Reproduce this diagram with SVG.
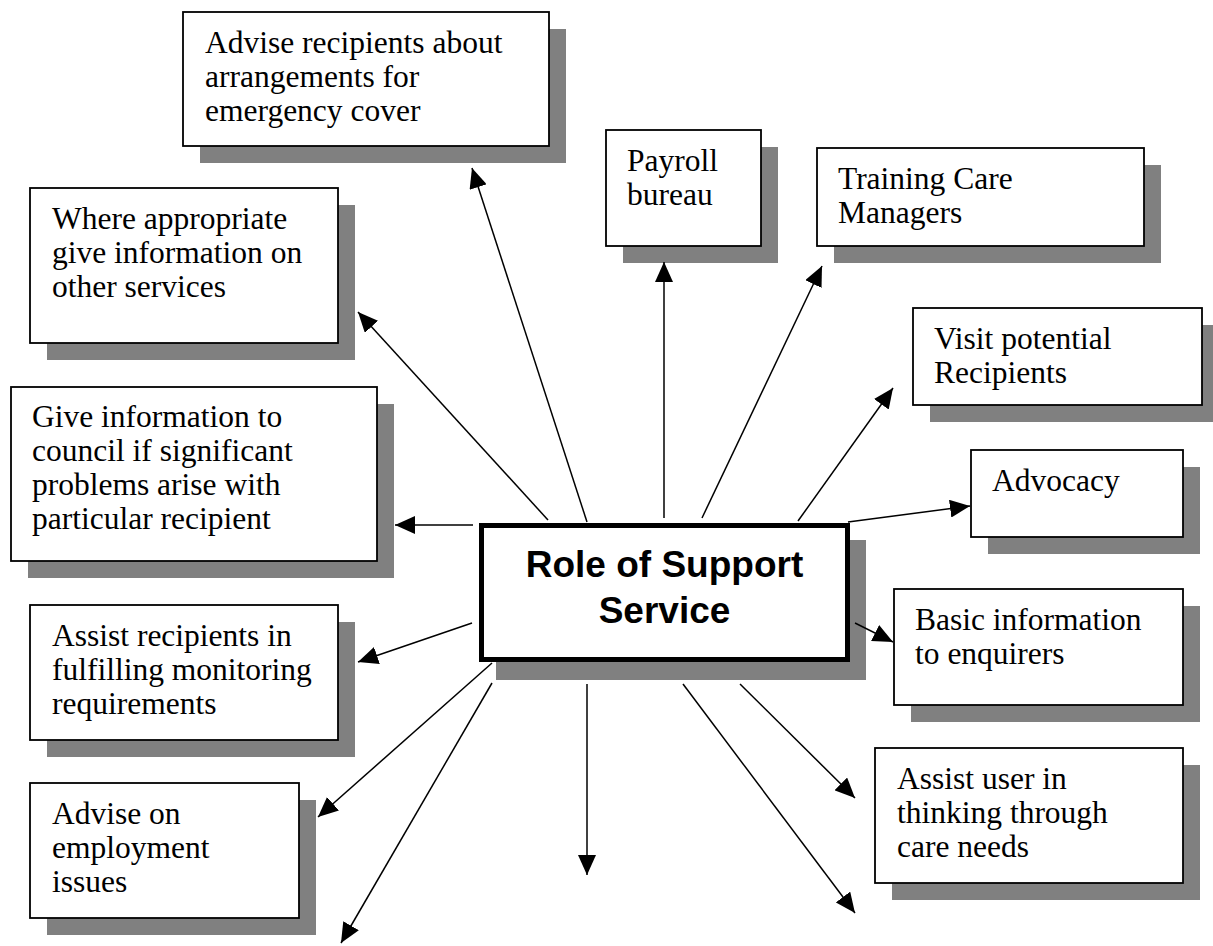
<svg xmlns="http://www.w3.org/2000/svg" width="1213" height="946" viewBox="0 0 1213 946">
  <style>
    .shadow { fill: #808080; }
    .box { fill: #ffffff; stroke: #000000; stroke-width: 1.8; }
    .core { fill: #ffffff; stroke: #000000; stroke-width: 5; }
    .label { font-family: "Liberation Serif", "Times New Roman", serif; font-size: 31.5px; fill: #000000; }
    .title { font-family: "Liberation Sans", Arial, sans-serif; font-size: 37px; font-weight: bold; fill: #000000; text-anchor: middle; }
    .link { stroke: #000000; stroke-width: 1.5; fill: none; marker-end: url(#arrow); }
  </style>
  <defs>
    <marker id="arrow" markerUnits="userSpaceOnUse" viewBox="0 0 20 18" refX="20" refY="9" markerWidth="20" markerHeight="18" orient="auto">
      <path d="M0,0 L20,9 L0,18 Z" fill="#000000"/>
    </marker>
  </defs>

  <rect width="1213" height="946" fill="#ffffff"/>

  <!-- outer task boxes -->
  <g id="node-emergency-cover">
    <rect class="shadow" x="200" y="29" width="366" height="134"/>
    <rect class="box" x="183" y="12" width="366" height="134"/>
    <text class="label" x="205" y="53">Advise recipients about</text>
    <text class="label" x="205" y="87">arrangements for</text>
    <text class="label" x="205" y="121">emergency cover</text>
  </g>

  <g id="node-other-services">
    <rect class="shadow" x="47" y="205" width="308" height="155"/>
    <rect class="box" x="30" y="188" width="308" height="155"/>
    <text class="label" x="52" y="229">Where appropriate</text>
    <text class="label" x="52" y="263">give information on</text>
    <text class="label" x="52" y="297">other services</text>
  </g>

  <g id="node-payroll">
    <rect class="shadow" x="623" y="147" width="155" height="116"/>
    <rect class="box" x="606" y="130" width="155" height="116"/>
    <text class="label" x="627" y="171">Payroll</text>
    <text class="label" x="627" y="205">bureau</text>
  </g>

  <g id="node-training">
    <rect class="shadow" x="834" y="165" width="327" height="98"/>
    <rect class="box" x="817" y="148" width="327" height="98"/>
    <text class="label" x="838" y="189">Training Care</text>
    <text class="label" x="838" y="223">Managers</text>
  </g>

  <g id="node-visit">
    <rect class="shadow" x="930" y="325" width="289" height="97"/>
    <rect class="box" x="913" y="308" width="289" height="97"/>
    <text class="label" x="934" y="349">Visit potential</text>
    <text class="label" x="934" y="383">Recipients</text>
  </g>

  <g id="node-advocacy">
    <rect class="shadow" x="988" y="467" width="212" height="87"/>
    <rect class="box" x="971" y="450" width="212" height="87"/>
    <text class="label" x="992" y="491">Advocacy</text>
  </g>

  <g id="node-council">
    <rect class="shadow" x="28" y="404" width="366" height="174"/>
    <rect class="box" x="11" y="387" width="366" height="174"/>
    <text class="label" x="32" y="427">Give information to</text>
    <text class="label" x="32" y="461">council if significant</text>
    <text class="label" x="32" y="495">problems arise with</text>
    <text class="label" x="32" y="529">particular recipient</text>
  </g>

  <g id="node-monitoring">
    <rect class="shadow" x="47" y="622" width="308" height="135"/>
    <rect class="box" x="30" y="605" width="308" height="135"/>
    <text class="label" x="52" y="646">Assist recipients in</text>
    <text class="label" x="52" y="680">fulfilling monitoring</text>
    <text class="label" x="52" y="714">requirements</text>
  </g>

  <g id="node-employment">
    <rect class="shadow" x="47" y="800" width="269" height="135"/>
    <rect class="box" x="30" y="783" width="269" height="135"/>
    <text class="label" x="52" y="824">Advise on</text>
    <text class="label" x="52" y="858">employment</text>
    <text class="label" x="52" y="892">issues</text>
  </g>

  <g id="node-enquirers">
    <rect class="shadow" x="911" y="606" width="289" height="116"/>
    <rect class="box" x="894" y="589" width="289" height="116"/>
    <text class="label" x="915" y="630">Basic information</text>
    <text class="label" x="915" y="664">to enquirers</text>
  </g>

  <g id="node-care-needs">
    <rect class="shadow" x="892" y="765" width="308" height="135"/>
    <rect class="box" x="875" y="748" width="308" height="135"/>
    <text class="label" x="897" y="789">Assist user in</text>
    <text class="label" x="897" y="823">thinking through</text>
    <text class="label" x="897" y="857">care needs</text>
  </g>

  <!-- central box -->
  <g id="node-support-service">
    <rect class="shadow" x="496" y="540" width="370" height="140"/>
    <rect class="core" x="481.5" y="525.5" width="366" height="134"/>
    <text class="title" x="664.5" y="577">Role of Support</text>
    <text class="title" x="664.5" y="623">Service</text>
  </g>

  <!-- connectors radiating from the central box -->
  <g id="connectors">
    <line class="link" x1="587" y1="522" x2="472" y2="168"/>
    <line class="link" x1="548" y1="520" x2="358" y2="312"/>
    <line class="link" x1="664" y1="518" x2="664" y2="262"/>
    <line class="link" x1="702" y1="518" x2="822" y2="266"/>
    <line class="link" x1="798" y1="521" x2="893" y2="388"/>
    <line class="link" x1="848" y1="522" x2="970" y2="506"/>
    <line class="link" x1="855" y1="623" x2="893" y2="642"/>
    <line class="link" x1="740" y1="684" x2="855" y2="798"/>
    <line class="link" x1="683" y1="684" x2="855" y2="913"/>
    <line class="link" x1="587" y1="684" x2="587" y2="875"/>
    <line class="link" x1="492" y1="663" x2="318" y2="817"/>
    <line class="link" x1="492" y1="683" x2="341" y2="943"/>
    <line class="link" x1="472" y1="623" x2="358" y2="662"/>
    <line class="link" x1="473" y1="525" x2="395" y2="525"/>
  </g>
</svg>
